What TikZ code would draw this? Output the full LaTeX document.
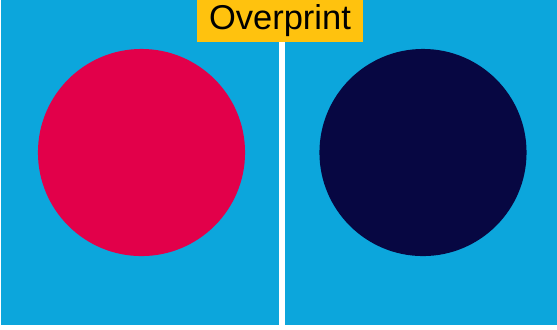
\documentclass[tikz,border=0pt]{standalone}
\usepackage{fontspec}
\setmainfont{Liberation Sans}
\usepackage{xcolor}
\definecolor{panelcyan}{HTML}{0CA6DC}
\definecolor{dotred}{HTML}{E2004A}
\definecolor{dotnavy}{HTML}{070742}
\definecolor{tagyellow}{HTML}{FFC20E}

\begin{document}
\begin{tikzpicture}[x=0.01cm, y=-0.01cm, panel/.style={fill=panelcyan, draw=none}, dot/.style={circle, draw=none, inner sep=0pt, minimum size=2.07cm}, tag/.style={fill=tagyellow, inner sep=0pt, minimum width=1.66cm, minimum height=0.42cm, font=\fontsize{9.8}{11}\selectfont}]
\useasboundingbox (0,0) rectangle (557,329);
\fill[white] (0,0) rectangle (557,329);
% two panels, white gap between them
\fill[panel] (1,0) rectangle (279,325);
\fill[panel] (285,0) rectangle (557,325);
% left: red dot, right: dark dot
\node[dot, fill=dotred] (reddot) at (141.5,152.5) {};
\node[dot, fill=dotnavy] (navydot) at (423,152.5) {};
% label on top
\node[tag] (title) at (280,21) {Overprint};
\end{tikzpicture}
\end{document}
